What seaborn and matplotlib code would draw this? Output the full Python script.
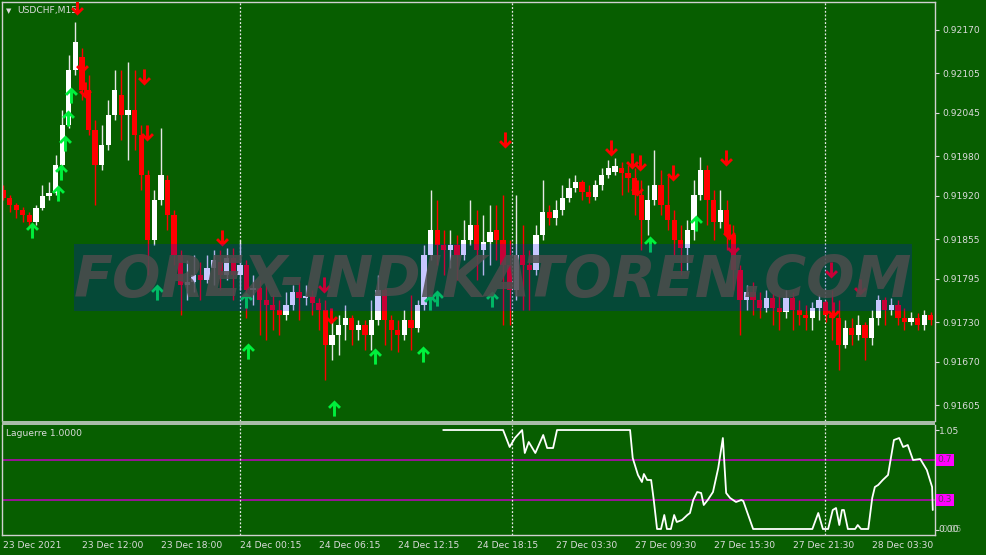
import numpy as np
import matplotlib
matplotlib.use("Agg")
import matplotlib.pyplot as plt
import matplotlib.transforms as mtransforms
from matplotlib.patches import Rectangle
from matplotlib.path import Path
import seaborn as sns

# ---------------- data (prices in 1e-5 points) ----------------
open_pts = [
    91929, 91917, 91906, 91899, 91891, 91881, 91902, 91920, 91924, 91967,
    92027, 92110, 92129, 92080, 92019, 91967, 91997, 92042, 92072, 92042,
    92049, 92012, 91952, 91854, 91914, 91944, 91891, 91831, 91786, 91790,
    91801, 91793, 91811, 91820, 91801, 91826, 91801, 91816, 91778, 91781,
    91763, 91756, 91748, 91740, 91756, 91775, 91766, 91769, 91759, 91748,
    91695, 91710, 91725, 91736, 91718, 91725, 91710, 91733, 91778, 91733,
    91718, 91710, 91733, 91721, 91756, 91831, 91869, 91846, 91838, 91846,
    91831, 91854, 91876, 91838, 91851, 91869, 91854, 91816, 91778, 91831,
    91816, 91808, 91861, 91896, 91887, 91899, 91917, 91932, 91941, 91926,
    91918, 91936, 91952, 91956, 91962, 91955, 91947, 91921, 91884, 91914,
    91936, 91906, 91884, 91854, 91841, 91869, 91921, 91959, 91914, 91881,
    91899, 91861, 91808, 91763, 91775, 91763, 91751, 91766, 91751, 91745,
    91766, 91748, 91740, 91736, 91751, 91760, 91740, 91736, 91695, 91721,
    91710, 91725, 91706, 91736, 91763, 91748, 91756, 91736, 91730, 91736,
    91725, 91740]
close_pts = [
    91917, 91906, 91899, 91891, 91881, 91902, 91920, 91924, 91967, 92027,
    92110, 92152, 92080, 92019, 91967, 91997, 92042, 92080, 92042, 92049,
    92012, 91952, 91854, 91914, 91952, 91891, 91831, 91786, 91790, 91801,
    91793, 91811, 91823, 91801, 91826, 91801, 91816, 91778, 91781, 91763,
    91756, 91748, 91740, 91756, 91775, 91766, 91769, 91759, 91748, 91695,
    91710, 91725, 91736, 91718, 91725, 91710, 91733, 91778, 91733, 91718,
    91710, 91733, 91721, 91756, 91831, 91869, 91846, 91838, 91846, 91831,
    91854, 91876, 91838, 91851, 91866, 91854, 91816, 91778, 91831, 91816,
    91808, 91861, 91896, 91887, 91899, 91917, 91932, 91941, 91926, 91918,
    91936, 91952, 91962, 91965, 91955, 91947, 91921, 91884, 91914, 91936,
    91906, 91884, 91854, 91841, 91869, 91921, 91959, 91914, 91881, 91899,
    91861, 91808, 91763, 91775, 91763, 91751, 91766, 91751, 91745, 91766,
    91748, 91740, 91736, 91751, 91763, 91740, 91736, 91695, 91721, 91710,
    91725, 91706, 91736, 91763, 91748, 91756, 91736, 91730, 91736, 91725,
    91740, 91733]
high_pts = [
    91936, 91921, 91909, 91903, 91896, 91906, 91936, 91941, 91982, 92049,
    92132, 92182, 92143, 92102, 92034, 92027, 92065, 92110, 92110, 92122,
    92110, 92027, 91959, 91929, 92022, 91952, 91899, 91838, 91823, 91831,
    91820, 91831, 91838, 91838, 91841, 91841, 91854, 91823, 91801, 91793,
    91786, 91771, 91763, 91775, 91786, 91790, 91786, 91778, 91766, 91763,
    91733, 91740, 91756, 91740, 91733, 91733, 91763, 91801, 91781, 91740,
    91733, 91748, 91771, 91763, 91846, 91929, 91914, 91869, 91869, 91861,
    91884, 91914, 91899, 91891, 91906, 91906, 91921, 91854, 91921, 91876,
    91838, 91876, 91944, 91906, 91914, 91936, 91947, 91952, 91944, 91936,
    91944, 91962, 91974, 91977, 91971, 91967, 91962, 91944, 91936, 91989,
    91959, 91952, 91899, 91876, 91884, 91944, 91979, 91967, 91929, 91929,
    91914, 91876, 91816, 91786, 91790, 91775, 91778, 91774, 91771, 91778,
    91775, 91763, 91756, 91760, 91771, 91763, 91778, 91763, 91733, 91736,
    91740, 91730, 91748, 91771, 91768, 91766, 91763, 91751, 91745, 91743,
    91748, 91745]
low_pts = [
    91914, 91896, 91887, 91881, 91872, 91876, 91899, 91914, 91921, 91962,
    92022, 92102, 92065, 92012, 91906, 91959, 91989, 92034, 92004, 91974,
    91989, 91929, 91801, 91846, 91906, 91869, 91816, 91740, 91763, 91775,
    91763, 91789, 91786, 91778, 91793, 91763, 91778, 91736, 91756, 91710,
    91703, 91718, 91710, 91733, 91748, 91733, 91756, 91740, 91718, 91643,
    91673, 91680, 91703, 91695, 91703, 91688, 91688, 91725, 91695, 91688,
    91685, 91703, 91688, 91715, 91748, 91823, 91816, 91801, 91811, 91793,
    91823, 91846, 91793, 91801, 91816, 91823, 91725, 91725, 91763, 91748,
    91748, 91801, 91854, 91876, 91876, 91891, 91911, 91926, 91914, 91909,
    91914, 91929, 91947, 91952, 91921, 91926, 91891, 91838, 91861, 91906,
    91891, 91869, 91831, 91801, 91808, 91854, 91914, 91876, 91854, 91872,
    91838, 91778, 91710, 91748, 91740, 91736, 91745, 91725, 91718, 91736,
    91718, 91725, 91718, 91718, 91733, 91730, 91703, 91658, 91691, 91695,
    91703, 91673, 91695, 91725, 91725, 91740, 91725, 91718, 91725, 91718,
    91718, 91725]

# signal arrows: bar position, price (points)
up_x = [4.4, 8.4, 8.8, 9.4, 9.9, 10.3, 23.4, 36.9, 37.2, 50.3, 56.5, 63.8,
        64.9, 66.0, 74.3, 98.3, 105.3]
up_pts = [91869, 91924, 91956, 92000, 92037, 92072, 91775, 91763, 91686,
          91600, 91679, 91682, 91760, 91766, 91765, 91847, 91879]
dn_x = [11.2, 12.0, 12.5, 21.4, 21.9, 33.3, 48.8, 49.8, 76.3, 92.4, 95.6,
        96.8, 96.3, 101.8, 109.9, 110.3, 110.9, 125.8, 130.2, 126.1]
dn_pts = [92205, 92117, 92080, 92099, 92015, 91856, 91786, 91739, 92004,
          91992, 91972, 91969, 91932, 91954, 91977, 91866, 91843, 91808,
          91783, 91748]

# Laguerre indicator
lag_x = [66.9, 74.0, 76.0, 77.0, 77.8, 78.9, 79.3, 79.9, 80.9, 82.1, 82.7,
         83.6, 84.2, 95.3, 95.7, 96.5, 97.1, 97.4, 97.9, 98.5, 98.9, 99.4,
         100.0, 100.5, 100.9, 101.5, 102.0, 102.4, 103.2, 104.0, 104.4,
         104.9, 105.5, 106.1, 106.5, 107.1, 107.9, 108.7, 109.4, 109.9,
         110.5, 111.4, 112.2, 112.5, 114.0, 123.0, 123.9, 124.6, 125.4,
         126.1, 126.6, 127.1, 127.5, 127.8, 128.4, 129.5, 129.9, 130.4,
         131.5, 132.1, 132.5, 133.0, 133.7, 134.5, 135.4, 136.2, 136.8,
         137.5, 138.3, 139.4, 140.4, 141.2, 141.3]
lag_v = [1.00, 1.00, 1.00, 0.83, 0.92, 1.00, 0.77, 0.88, 0.77, 0.95, 0.82,
         0.82, 1.00, 1.00, 0.72, 0.55, 0.48, 0.56, 0.50, 0.50, 0.30, 0.01,
         0.01, 0.15, 0.01, 0.01, 0.15, 0.08, 0.10, 0.15, 0.17, 0.30, 0.38,
         0.37, 0.25, 0.30, 0.38, 0.62, 0.92, 0.37, 0.32, 0.28, 0.30, 0.29,
         0.01, 0.01, 0.17, 0.01, 0.01, 0.20, 0.22, 0.05, 0.20, 0.20, 0.01,
         0.01, 0.05, 0.01, 0.01, 0.32, 0.43, 0.45, 0.50, 0.55, 0.90, 0.92,
         0.83, 0.85, 0.70, 0.71, 0.60, 0.43, 0.20]
lag_levels = [0.7, 0.3]

price_ticks = [0.92170, 0.92105, 0.92045, 0.91980, 0.91920, 0.91855,
               0.91795, 0.91730, 0.91670, 0.91605]
time_tick_pos = [0, 12, 24, 36, 48, 60, 72, 84, 96, 108, 120, 132]
time_labels = ["23 Dec 2021", "23 Dec 12:00", "23 Dec 18:00", "24 Dec 00:15",
               "24 Dec 06:15", "24 Dec 12:15", "24 Dec 18:15", "27 Dec 03:30",
               "27 Dec 09:30", "27 Dec 15:30", "27 Dec 21:30", "28 Dec 03:30"]
day_breaks = [36.0, 77.4, 124.9]

# ---------------- style ----------------
sns.set_theme(style="dark")
plt.rcParams['font.family'] = ['DejaVu Sans']
BG = '#075e00'
FG = '#dcdcdc'
W, H = 987, 555

o = np.array(open_pts) / 1e5
c = np.array(close_pts) / 1e5
hi = np.array(high_pts) / 1e5
lo = np.array(low_pts) / 1e5
x = np.arange(len(o))
bull = c >= o

fig = plt.figure(figsize=(W / 100, H / 100), dpi=100, facecolor=BG)


def px_axes(x0, y0, x1, y1):
    return fig.add_axes([x0 / W, 1 - y1 / H, (x1 - x0) / W, (y1 - y0) / H])


ax = px_axes(2, 2, 935, 421)
ax2 = px_axes(2, 425, 935, 535)
XL = (-0.15, 141.64)

# ---------------- main chart ----------------
ax.set_facecolor(BG)
ax.set_xlim(*XL)
ax.set_ylim(0.91581, 0.92212)
ax.grid(False)
for s in ['left', 'top', 'right']:
    ax.spines[s].set_color('#d0d0d0')
    ax.spines[s].set_linewidth(1.0)
ax.spines['bottom'].set_visible(False)
ax.set_xticks([])
ax.yaxis.tick_right()
ax.set_yticks(price_ticks)
ax.set_yticklabels([f"{v:.5f}" for v in price_ticks])
ax.tick_params(axis='y', colors=FG, labelsize=6.6, length=3, width=0.8,
               direction='out', pad=2)

for d in day_breaks:
    ax.axvline(d, color='#e8e8e8', lw=0.9, ls=(0, (1.5, 1.5)), zorder=1)

wick_cols = np.where(bull, '#e6e6e6', '#ff0000')
body_cols = np.where(bull, '#ffffff', '#ff0000')
ax.vlines(x, lo, hi, colors=wick_cols, lw=1.0, zorder=2)
body_h = np.maximum(np.abs(c - o), 1.6e-5)
ax.bar(x, body_h, bottom=np.minimum(o, c), width=0.8, color=body_cols,
       linewidth=0, zorder=2.5)

up_path = Path([(0, 1), (0.8, 0.2), (0.5525, -0.0475), (0.18, 0.325),
                (0.18, -1), (-0.18, -1), (-0.18, 0.325), (-0.5525, -0.0475),
                (-0.8, 0.2), (0, 1)], closed=True)
dn_path = Path([(vx, -vy) for vx, vy in up_path.vertices], closed=True)
ax.scatter(up_x, np.array(up_pts) / 1e5, marker=up_path, s=135,
           c='#00f03c', linewidths=0, zorder=4)
ax.scatter(dn_x, np.array(dn_pts) / 1e5, marker=dn_path, s=135,
           c='#ff0000', linewidths=0, zorder=4)

ax.text((6 - 2) / 933, 1 - (11 - 2) / 419, '\u25BC', transform=ax.transAxes,
        fontsize=5, color=FG, va='center', ha='left', zorder=3)
ax.text((17 - 2) / 933, 1 - (11 - 2) / 419, 'USDCHF,M15',
        transform=ax.transAxes, fontsize=6.6, color=FG, va='center',
        ha='left', zorder=3)

# ---------------- Laguerre panel ----------------
ax2.set_facecolor(BG)
ax2.set_xlim(*XL)
ax2.set_ylim(-0.05, 1.05)
ax2.grid(False)
for s in ['left', 'right', 'bottom']:
    ax2.spines[s].set_color('#d0d0d0')
    ax2.spines[s].set_linewidth(1.0)
ax2.spines['top'].set_visible(False)
for lv in lag_levels:
    ax2.axhline(lv, color='#c000c0', lw=1.1, zorder=1)
for d in day_breaks:
    ax2.axvline(d, color='#e8e8e8', lw=0.9, ls=(0, (1.5, 1.5)), zorder=1)
sns.lineplot(x=lag_x, y=lag_v, ax=ax2, color='white', lw=1.3, sort=False,
             estimator=None, zorder=3)
ax2.set_xlabel('')
ax2.set_ylabel('')
ax2.set_xticks(time_tick_pos)
ax2.set_xticklabels(time_labels, ha='left')
ax2.tick_params(axis='x', colors=FG, labelsize=6.6, length=3, width=0.8,
                direction='out', pad=1.5)
ax2.yaxis.tick_right()
ax2.set_yticks([1.0, 0.0])
ax2.set_yticklabels(['', ''])
ax2.tick_params(axis='y', colors=FG, length=3, width=0.8, direction='out')

bt = mtransforms.blended_transform_factory(ax2.transAxes, ax2.transData)
ax2.text(1.004, 0.98, '1.05', transform=bt, fontsize=6.6, color=FG,
         va='center', ha='left')
ax2.text(1.004, 0.01, '0.00', transform=bt, fontsize=6.6, color=FG,
         va='center', ha='left')
ax2.text(1.0065, 0.01, '0.05', transform=bt, fontsize=6.6, color=FG,
         va='center', ha='left', alpha=0.6)
for lv in lag_levels:
    ax2.text(1.003, lv, f"{lv:.1f}", transform=bt, fontsize=6.6,
             color='#5a3a5a', va='center', ha='left',
             bbox=dict(boxstyle='square,pad=0.15', fc='#ff00ff', ec='none'))
ax2.text((6 - 2) / 933, 1 - (433 - 425) / 110, 'Laguerre 1.0000',
         transform=ax2.transAxes, fontsize=6.6, color=FG, va='center',
         ha='left')

# panel separator
fig.add_artist(Rectangle((2 / W, 1 - 424.5 / H), 933 / W, 3.5 / H,
                         transform=fig.transFigure, facecolor='#a9bca9',
                         edgecolor='none', zorder=3))

# watermark overlay
fig.add_artist(Rectangle((74 / W, 1 - 311 / H), 838 / W, 67 / H,
                         transform=fig.transFigure, facecolor=(0, 0, 1.0, 0.22),
                         edgecolor='none', zorder=5))
fig.text(493 / W, 1 - 297 / H, 'FOREX-INDIKATOREN.COM', fontsize=41,
         fontweight='bold', style='italic', color=(0.30, 0.30, 0.30),
         alpha=0.85, ha='center', va='baseline', zorder=6)

fig.savefig('out.png', dpi=100, facecolor=BG)
